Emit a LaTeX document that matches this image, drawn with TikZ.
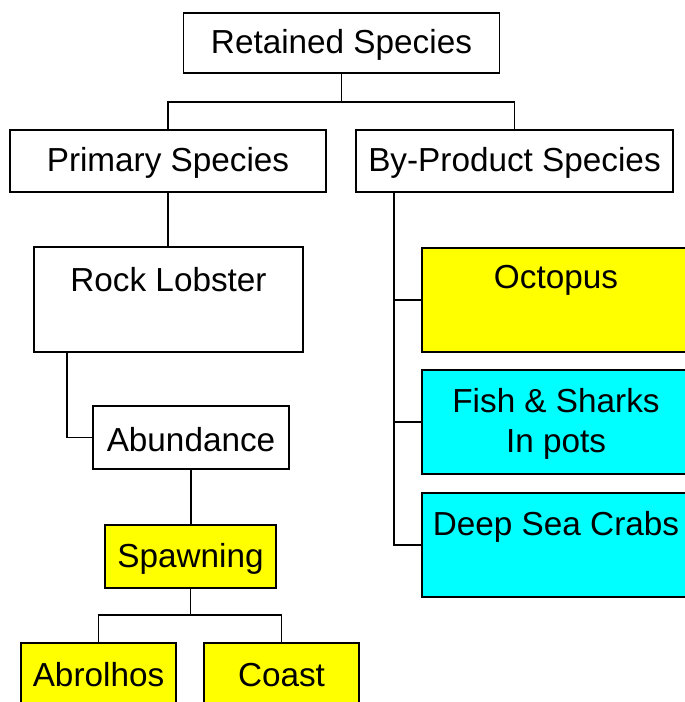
\documentclass[tikz,border=0pt]{standalone}
\usepackage{fontspec}
\setmainfont{Liberation Sans}
\begin{document}
\begin{tikzpicture}[x=1pt,y=-1pt,
  box/.style={draw=black, line width=1.8pt, fill=white, inner sep=0pt, outer sep=0pt},
  ybox/.style={box, fill=yellowfill},
  cbox/.style={box, fill=cyanfill},
  txt/.style={inner sep=0pt, font=\fontsize{33.3}{40}\selectfont, align=center},
  conn/.style={draw=black, line width=1.8pt}]
\definecolor{yellowfill}{HTML}{FFFF00}
\definecolor{cyanfill}{HTML}{00FFFF}
\useasboundingbox (0,0) rectangle (685,702);
\clip (0,0) rectangle (685,702);
% boxes
\node[box, minimum width=316pt, minimum height=60pt] (ret) at (341.5,43) {};
\node[box, minimum width=316pt, minimum height=62pt] (prim) at (168,161) {};
\node[box, minimum width=317pt, minimum height=62pt] (byp) at (514.5,161) {};
\node[box, minimum width=269pt, minimum height=105pt] (rl) at (168.5,299.5) {};
\node[box, minimum width=196pt, minimum height=63pt] (ab) at (191,437.5) {};
\node[ybox, minimum width=171pt, minimum height=63pt] (sp) at (190.5,556.5) {};
\node[ybox, minimum width=155pt, minimum height=64pt] (abr) at (98.5,675) {};
\node[ybox, minimum width=155pt, minimum height=64pt] (coast) at (281.5,675) {};
\node[ybox, minimum width=268pt, minimum height=104pt] (oct) at (556,300) {};
\node[cbox, minimum width=268pt, minimum height=104pt] (fish) at (556,422) {};
\node[cbox, minimum width=268pt, minimum height=104pt] (deep) at (556,545) {};
% texts
\node[txt] (rett) at ([yshift=-2pt]ret.center) {Retained Species};
\node[txt] (primt) at ([yshift=-2pt]prim.center) {Primary Species};
\node[txt] (bypt) at ([yshift=-2pt]byp.center) {By-Product Species};
\node[txt] (rlt) at (168.5,280) {Rock Lobster};
\node[txt] (abt) at ([yshift=-2pt]ab.center) {Abundance};
\node[txt] (spt) at ([yshift=-2pt]sp.center) {Spawning};
\node[txt] (abrt) at (98.5,675) {Abrolhos};
\node[txt] (coastt) at (281.5,675) {Coast};
\node[txt] (octt) at (556,280) {Octopus};
\node[txt] (fisht) at ([yshift=-2pt]fish.center) {Fish \& Sharks\\In pots};
\node[txt] (deept) at (556,527) {Deep Sea Crabs};
% connectors
\coordinate (j1) at (341.5,102);
\draw[conn] (ret.south) -- (j1);
\draw[conn] (j1) -| (prim.north);
\draw[conn] (j1) -| (byp.north);
\draw[conn] (prim.south) -- (prim.south |- rl.north);
\draw[conn] ([xshift=33pt]rl.south west) |- (ab.west);
\draw[conn] (ab.south) -- (ab.south |- sp.north);
\coordinate (j2) at (190.5,615);
\draw[conn] (sp.south) -- (j2);
\draw[conn] (j2) -| (abr.north);
\draw[conn] (j2) -| (coast.north);
\coordinate (bt) at ([xshift=38pt]byp.south west);
\draw[conn] (bt) |- (deep.west);
\draw[conn] (oct.west) -- (bt |- oct.west);
\draw[conn] (fish.west) -- (bt |- fish.west);
\end{tikzpicture}
\end{document}
